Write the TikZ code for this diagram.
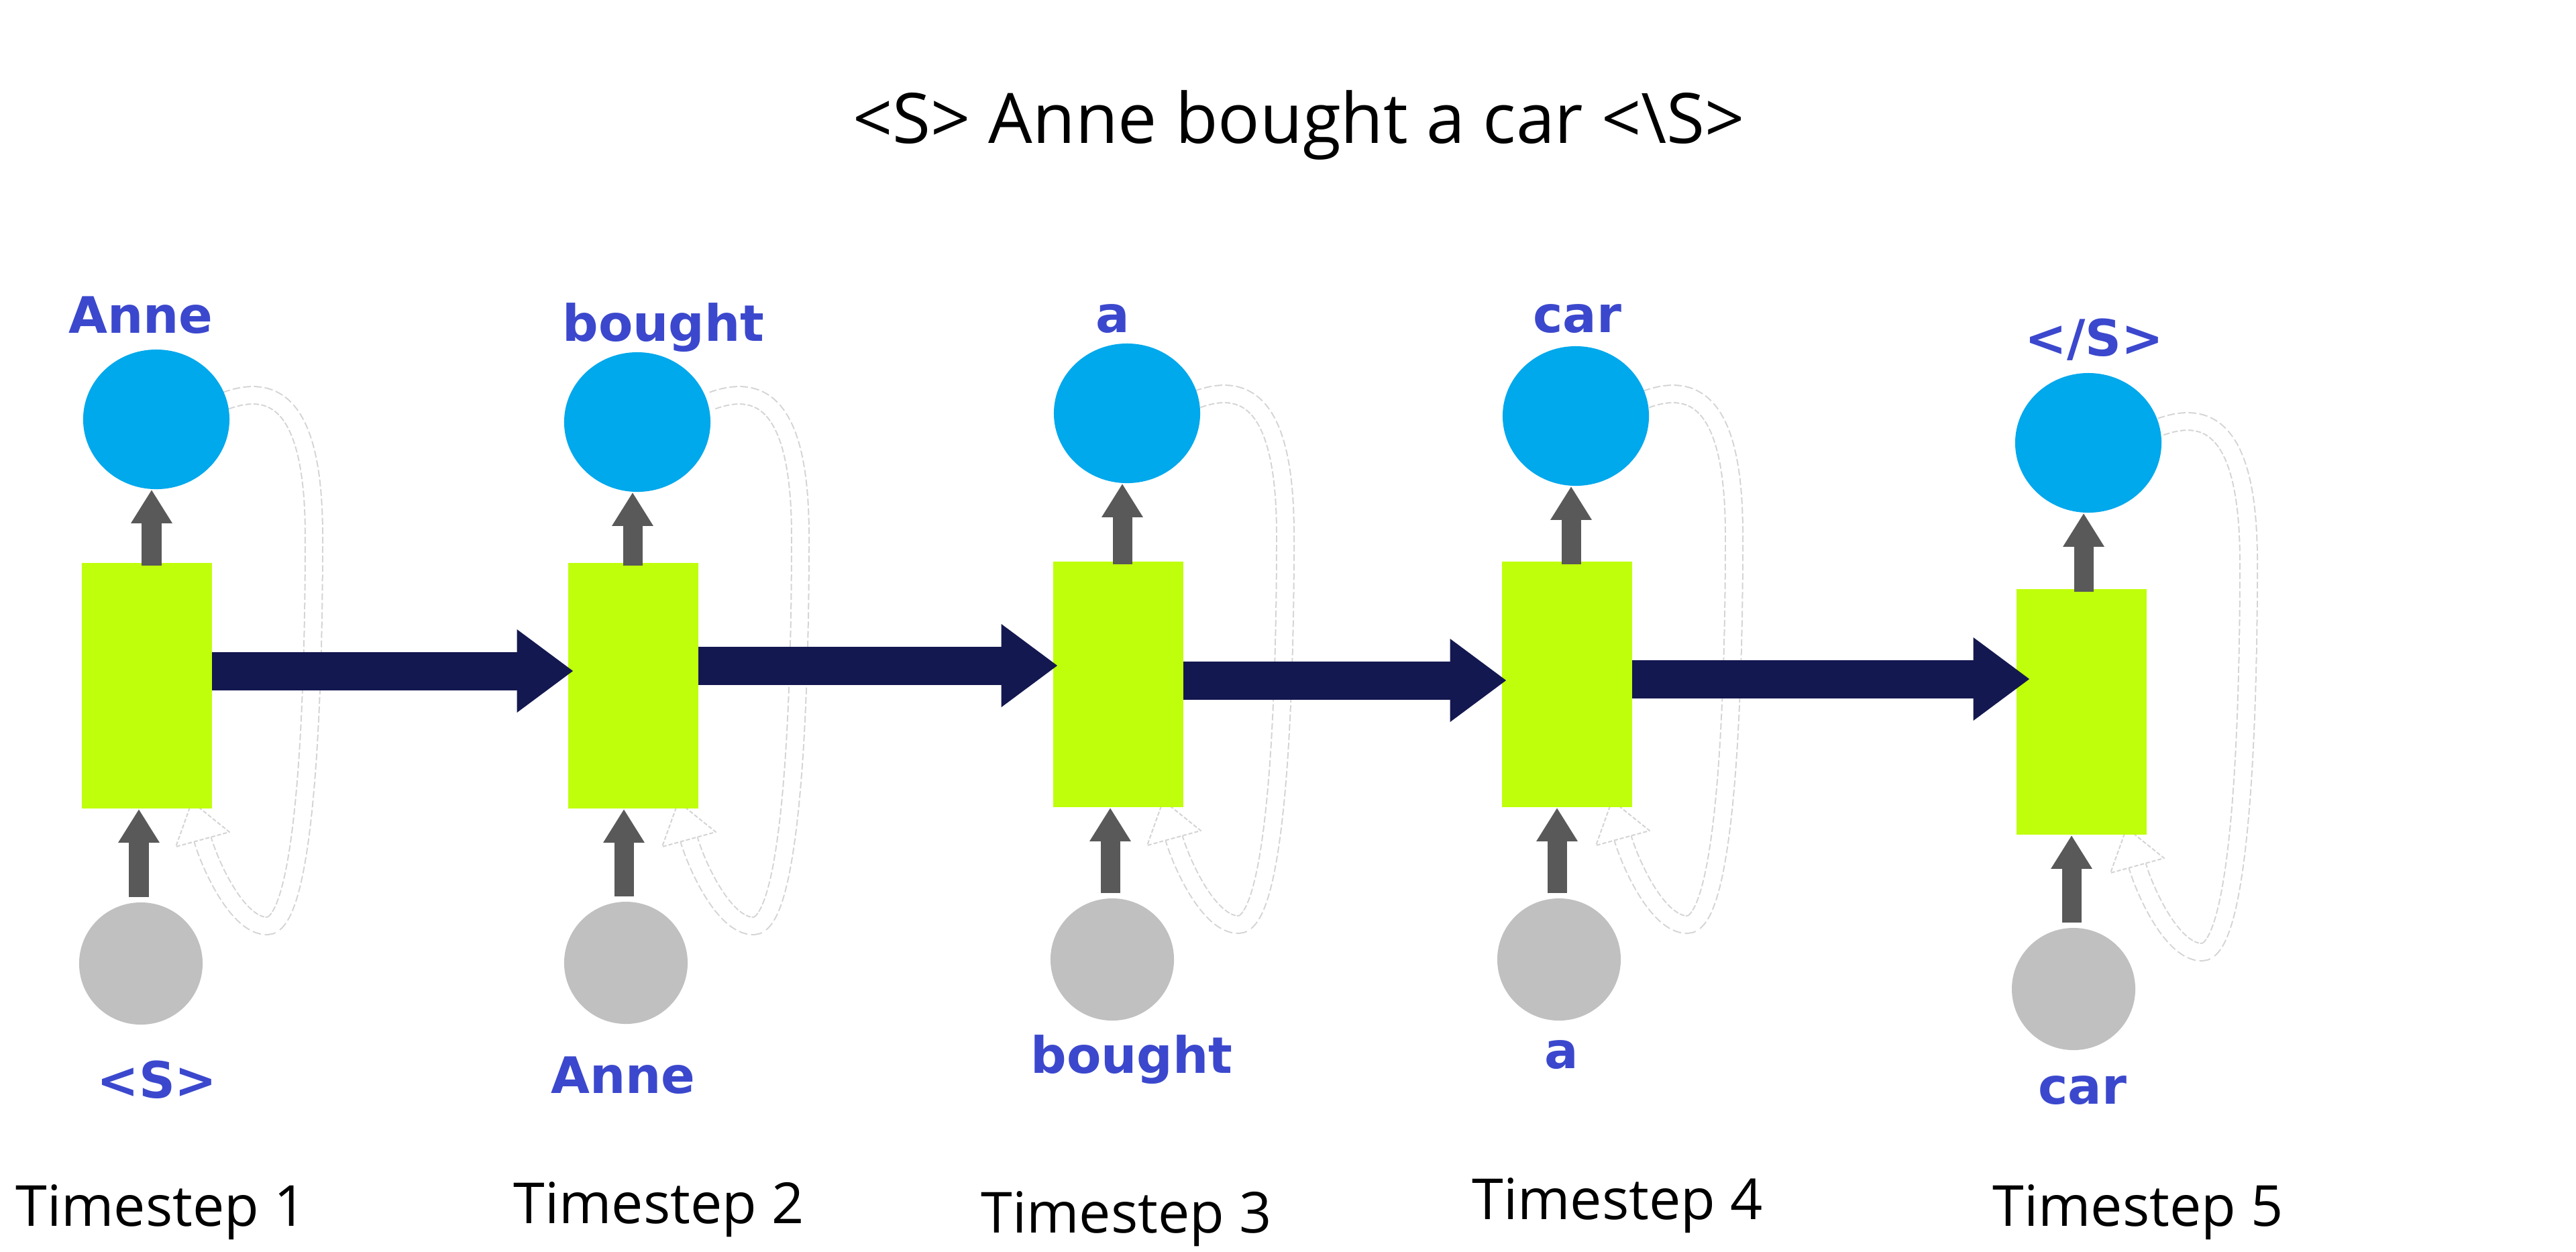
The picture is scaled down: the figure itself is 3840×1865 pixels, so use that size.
\documentclass[tikz,border=0pt]{standalone}
\usepackage{fontspec}
\setmainfont{Open Sans}
\newfontfamily\lblfont{DejaVu Sans}
\usetikzlibrary{shapes.geometric,arrows.meta,calc}
\definecolor{cellgreen}{RGB}{192,255,12}
\definecolor{outblue}{RGB}{0,168,236}
\definecolor{ingray}{RGB}{192,192,192}
\definecolor{arrgray}{RGB}{89,89,89}
\definecolor{navyc}{RGB}{20,24,80}
\definecolor{wordblue}{RGB}{59,72,205}
\definecolor{loopgray}{RGB}{212,212,212}
\begin{document}
\begin{tikzpicture}[x=0.01cm,y=-0.01cm,
 cell/.style={rectangle, fill=cellgreen, minimum width=1.93cm, minimum height=3.66cm, inner sep=0pt},
 outnode/.style={ellipse, fill=outblue, minimum width=2.18cm, minimum height=2.08cm, inner sep=0pt},
 innode/.style={ellipse, fill=ingray, minimum width=1.84cm, minimum height=1.82cm, inner sep=0pt},
 word/.style={anchor=base, inner sep=0pt, text=wordblue, font=\lblfont\bfseries\fontsize{21.3pt}{25pt}\selectfont},
 tstep/.style={anchor=base, inner sep=0pt, font=\fontsize{24pt}{29pt}\selectfont},
 grayarr/.style={draw=arrgray, line width=0.29cm, -{Triangle[length=0.5cm,width=0.58cm]}},
 navyarr/.style={draw=navyc, line width=0.57cm, -{Triangle[length=0.84cm,width=1.18cm]}},
 loopouter/.style={draw=loopgray, line width=0.28cm, dash pattern=on 0.1cm off 0.04cm},
 loopinner/.style={draw=white, line width=0.24cm},
 loophead/.style={fill=white, draw=loopgray, line width=0.02cm, dash pattern=on 0.06cm off 0.03cm, line join=round},
]
\useasboundingbox (0,0) rectangle (3840,1865);

% faint recurrent loops (behind everything)
\foreach \cx/\cy in {219/1022, 944/1022, 1667/1020, 2336/1020, 3103/1061}{
  \begin{scope}[shift={(\cx,\cy)}]
    \draw[loopouter] (118,-425) .. controls (201,-455) and (249,-402) .. (249,-222)
      .. controls (249,28) and (236,358) .. (179,358)
      .. controls (135,358) and (94,267) .. (83,229);
    \draw[loopinner] (118,-425) .. controls (201,-455) and (249,-402) .. (249,-222)
      .. controls (249,28) and (236,358) .. (179,358)
      .. controls (135,358) and (94,267) .. (83,229);
    \draw[loophead] (67,173) -- (43,240) -- (123,218) -- cycle;
  \end{scope}
}

% title
\node[anchor=base, inner sep=0pt, font=\fontsize{29.5pt}{35pt}\selectfont] (title) at (1936,213) {<S> Anne bought a car <\textbackslash S>};

% cells
\node[cell] (r1) at (219,1022) {};
\node[cell] (r2) at (944,1022) {};
\node[cell] (r3) at (1667,1020) {};
\node[cell] (r4) at (2336,1020) {};
\node[cell] (r5) at (3103,1061) {};

% outputs
\node[outnode] (b1) at (233,625) {};
\node[outnode] (b2) at (950,629) {};
\node[outnode] (b3) at (1680,616) {};
\node[outnode] (b4) at (2349,620) {};
\node[outnode] (b5) at (3113,660) {};

% inputs
\node[innode] (g1) at (210,1436) {};
\node[innode] (g2) at (933,1435) {};
\node[innode] (g3) at (1658,1430) {};
\node[innode] (g4) at (2324,1430) {};
\node[innode] (g5) at (3091,1474) {};

% hidden-state arrows
\draw[navyarr] ($(r1.east)+(0,-22)$) -- ($(r2.west)+(8,-22)$);
\draw[navyarr] ($(r2.east)+(0,-30)$) -- ($(r3.west)+(7,-28)$);
\draw[navyarr] ($(r3.east)+(0,-6)$) -- ($(r4.west)+(7,-6)$);
\draw[navyarr] ($(r4.east)+(0,-8)$) -- ($(r5.west)+(20,-49)$);

% cell -> output arrows
\foreach \i in {1,...,5}{
  \draw[grayarr] ($(b\i.center |- r\i.north)+(-7,5)$) -- ($(b\i.south)+(-7,0)$);
  \draw[grayarr] ($(g\i.north)+(-3,-7)$) -- ($(g\i.center |- r\i.south)+(-3,0)$);
}

% output words
\node[word] (o1) at (210,496) {Anne};
\node[word] (o2) at (989,508) {bought};
\node[word] (o3) at (1659,495) {a};
\node[word] (o4) at (2351,495) {car};
\node[word] (o5) at (3122,530) {</S>};

% input words
\node[word] (i1) at (234,1636) {<S>};
\node[word] (i2) at (929,1629) {Anne};
\node[word] (i3) at (1687,1599) {bought};
\node[word] (i4) at (2328,1592) {a};
\node[word] (i5) at (3104,1645) {car};

% timestep labels
\node[tstep] (t1) at (240,1827) {Timestep 1};
\node[tstep] (t2) at (982,1823) {Timestep 2};
\node[tstep] (t3) at (1679,1837) {Timestep 3};
\node[tstep] (t4) at (2411,1817) {Timestep 4};
\node[tstep] (t5) at (3187,1827) {Timestep 5};
\end{tikzpicture}
\end{document}
